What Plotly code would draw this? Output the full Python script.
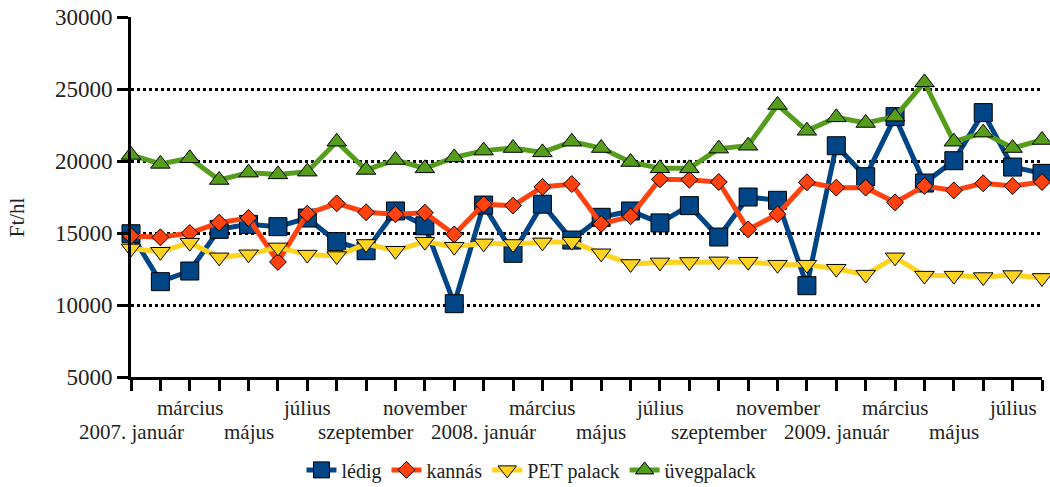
import plotly.graph_objects as go

months = ["2007. január", "február", "március", "április", "május", "június", "július",
          "augusztus", "szeptember", "október", "november", "december",
          "2008. január", "február", "március", "április", "május", "június", "július",
          "augusztus", "szeptember", "október", "november", "december",
          "2009. január", "február", "március", "április", "május", "június", "július",
          "augusztus"]

ledig = [14950, 11620, 12360, 15250, 15600, 15440, 16040, 14400, 13770, 16530, 15500, 10090,
         16940, 13590, 17000, 14510, 16090, 16530, 15700, 16900, 14720, 17500, 17270, 11340,
         21060, 18910, 23080, 18470, 20020, 23360, 19580, 19140]
kannas = [14800, 14700, 15000, 15720, 16040, 12990, 16340, 17060, 16440, 16300, 16410, 14900,
          16990, 16900, 18200, 18400, 15630, 16160, 18730, 18700, 18540, 15250, 16300, 18520,
          18150, 18150, 17130, 18260, 17960, 18450, 18260, 18540]
pet = [13930, 13700, 14330, 13310, 13520, 14000, 13500, 13400, 14240, 13770, 14400, 14050,
       14280, 14240, 14350, 14400, 13590, 12850, 12960, 12990, 13030, 13010, 12800, 12800,
       12520, 12110, 13310, 12040, 12040, 11940, 12080, 11880]
uveg = [20420, 19800, 20190, 18680, 19190, 19070, 19260, 21340, 19380, 20070, 19490, 20250,
        20720, 20900, 20600, 21340, 20900, 19930, 19490, 19490, 20860, 21060, 23890, 22100,
        23030, 22640, 23080, 25460, 21340, 21970, 20900, 21460]

series = [
    ("lédig", ledig, "#004586", "square", 18),
    ("kannás", kannas, "#ff420e", "diamond", 13),
    ("PET palack", pet, "#ffd320", "triangle-down", 17),
    ("üvegpalack", uveg, "#579d1c", "triangle-up", 17),
]

FONT = "Liberation Serif"
TXT = "#222222"
x = list(range(len(months)))

fig = go.Figure()
for name, vals, color, sym, size in series:
    fig.add_trace(go.Scatter(
        x=x, y=vals, name=name, mode="lines+markers",
        line=dict(color=color, width=5),
        marker=dict(symbol=sym, size=size, color=color, line=dict(color="black", width=1)),
        cliponaxis=False,
    ))

# two-row month labels (every second month, alternating rows)
for i in range(0, len(months), 2):
    upper = (i % 4 == 2)
    fig.add_annotation(
        x=i, xref="x", y=-0.086 if upper else -0.152, yref="paper",
        text=months[i], showarrow=False, xanchor="center", yanchor="middle",
        font=dict(family=FONT, size=21, color=TXT),
    )

fig.add_annotation(
    x=-0.125, xref="paper", xanchor="center", y=0.444, yref="paper", yanchor="middle",
    text="Ft/hl", textangle=-90, showarrow=False,
    font=dict(family=FONT, size=21, color=TXT),
)

fig.update_layout(
    width=1050, height=487,
    margin=dict(l=131, r=8, t=17, b=110, autoexpand=False),
    plot_bgcolor="white", paper_bgcolor="white",
    font=dict(family=FONT, size=20, color=TXT),
    showlegend=True,
    legend=dict(orientation="h", x=0.4396, xanchor="center",
                y=-0.258, yanchor="middle",
                font=dict(family=FONT, size=20, color=TXT),
                itemwidth=30, tracegroupgap=0),
    xaxis=dict(range=[0, len(months) - 1], tickvals=x, ticktext=[""] * len(x),
               ticks="outside", ticklen=11, tickwidth=3, tickcolor="black",
               showline=True, linecolor="black", linewidth=3, showgrid=False,
               zeroline=False, automargin=False),
    yaxis=dict(range=[5000, 30000], dtick=5000, tick0=5000, tickformat="d",
               ticks="outside", ticklen=11, tickwidth=3, tickcolor="black",
               showline=True, linecolor="black", linewidth=3,
               showgrid=True, gridcolor="black", gridwidth=2.5, griddash="3px,3px",
               zeroline=False, tickfont=dict(family=FONT, size=23, color=TXT),
               automargin=False),
)

fig.write_html("out.html", config={"displayModeBar": False},
               post_script="document.body.style.margin='0';document.body.style.overflow='hidden';")
